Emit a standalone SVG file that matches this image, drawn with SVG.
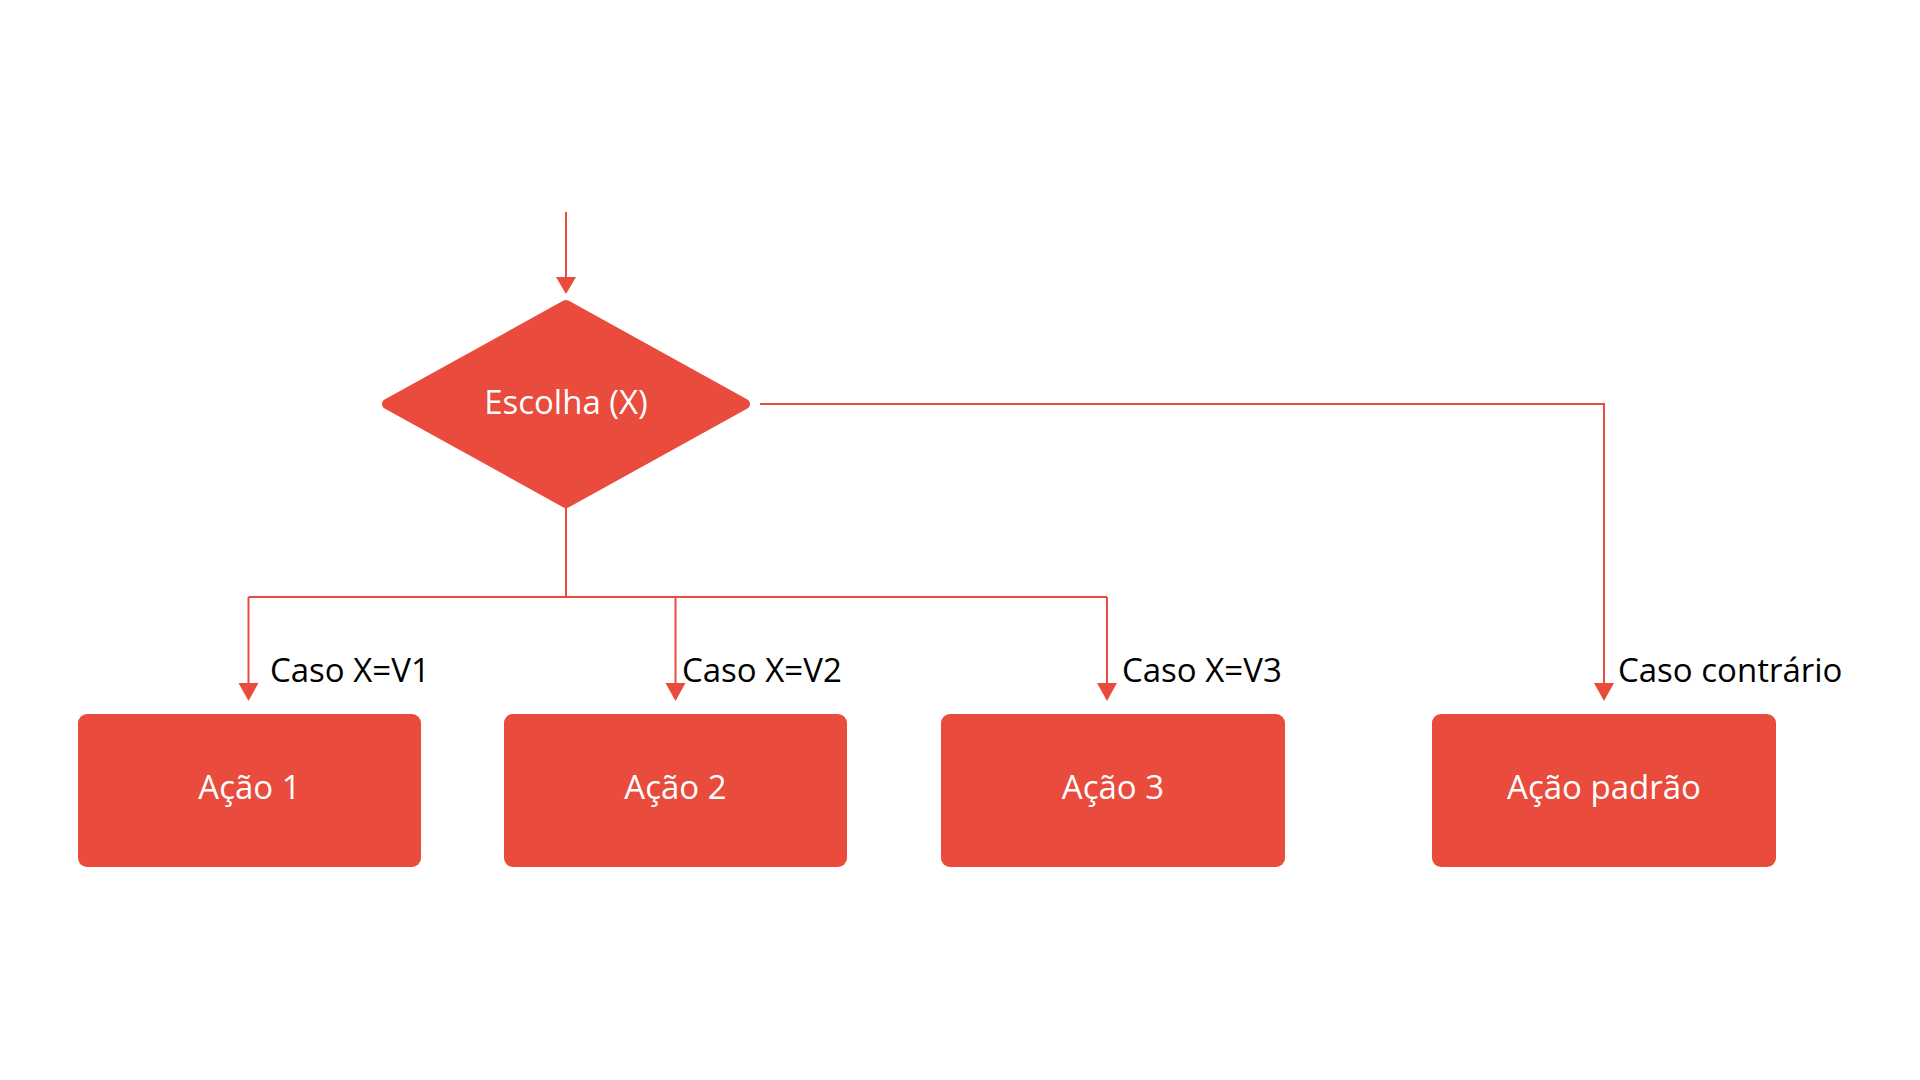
<svg xmlns="http://www.w3.org/2000/svg" width="1920" height="1080" viewBox="0 0 1920 1080">
<defs>
<style>
.bg{fill:#FFFFFF}
.node{fill:#E94B3C}
.conn{stroke:#E94B3C;stroke-width:2;fill:none}
.head{fill:#E94B3C}
.ntext{font-family:"Open Sans","Noto Sans","Liberation Sans",sans-serif;font-size:33px;fill:#FFFFFF;text-anchor:middle}
.ltext{font-family:"Open Sans","Noto Sans","Liberation Sans",sans-serif;font-size:33px;fill:#000000}
</style>
</defs>
<rect class="bg" x="0" y="0" width="1920" height="1080"/>
<g id="connectors">
<path class="conn" d="M566 212 V278"/>
<polygon class="head" points="556,277 576,277 566,294"/>
<path class="conn" d="M566 508 V597"/>
<path class="conn" d="M248.5 597 H1107"/>
<path class="conn" d="M248.5 597 V684"/>
<polygon class="head" points="238.5,683 258.5,683 248.5,701"/>
<path class="conn" d="M675.5 597 V684"/>
<polygon class="head" points="665.5,683 685.5,683 675.5,701"/>
<path class="conn" d="M1107 597 V684"/>
<polygon class="head" points="1097,683 1117,683 1107,701"/>
<path class="conn" d="M760 404 H1604 V684"/>
<polygon class="head" points="1594,683 1614,683 1604,701"/>
<text class="ltext" x="270" y="682">Caso X=V1</text>
<text class="ltext" x="682" y="682">Caso X=V2</text>
<text class="ltext" x="1122" y="682">Caso X=V3</text>
<text class="ltext" x="1618" y="682">Caso contrário</text>
</g>
<g id="node-escolha">
<polygon class="node" points="387,404 566,305 745,404 566,503" stroke="#E94B3C" stroke-width="10" stroke-linejoin="round"/>
<text class="ntext" x="566" y="414">Escolha (X)</text>
</g>
<g id="node-acao1">
<rect class="node" x="78" y="714" width="343" height="153" rx="9"/>
<text class="ntext" x="249.5" y="799">Ação 1</text>
</g>
<g id="node-acao2">
<rect class="node" x="504" y="714" width="343" height="153" rx="9"/>
<text class="ntext" x="675.5" y="799">Ação 2</text>
</g>
<g id="node-acao3">
<rect class="node" x="941" y="714" width="344" height="153" rx="9"/>
<text class="ntext" x="1113" y="799">Ação 3</text>
</g>
<g id="node-padrao">
<rect class="node" x="1432" y="714" width="344" height="153" rx="9"/>
<text class="ntext" x="1604" y="799">Ação padrão</text>
</g>
</svg>
